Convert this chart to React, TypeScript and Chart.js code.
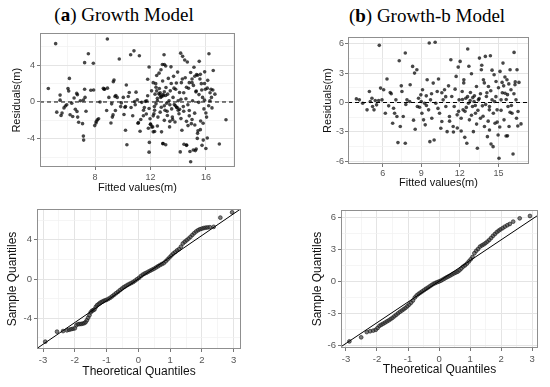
import React, { useEffect, useRef } from 'react';
import Chart from 'chart.js/auto';

type Pt = [number, number];

// (a) residuals vs fitted: [fitted, residual]
const aResidPoints: Pt[] = [
  [4.63,1.46],[5.16,6.33],[5.48,0.75],[5.48,0.2],[5.24,-1.1],[5.55,-1.46],[5.62,-1.2],[5.76,-0.64],[5.86,-0.43],[5.96,-0.3],
  [6.05,1.46],[6.1,1.2],[6.15,2.56],[6.2,-1.39],[6.32,-0.14],[6.39,-1.57],[6.49,0.43],[6.58,-0.78],[6.68,0.93],[6.73,0.78],
  [6.7,-1.03],[6.75,-1.64],[6.82,-2.2],[7.1,-2.35],[7.16,0.21],[7.16,-3.7],[7.18,-4.13],[7.25,4.27],[7.25,1.39],[7.35,-1.0],
  [7.52,5.23],[7.7,1.28],[7.88,4.2],[7.28,0.5],[6.94,0.14],[7.98,-2.56],[8.07,-2.28],[8.17,-1.92],[8.26,-1.81],[8.36,0],
  [8.6,1.49],[8.65,1.39],[8.84,-0.93],[8.89,6.83],[9.0,0.5],[9.2,-0.2],[9.32,2.2],[9.37,2.38],[9.44,0.6],[9.47,-0.93],
  [9.15,-2.28],[9.25,-1.64],[9.75,4.66],[9.6,0.5],[9.85,-0.5],[10.04,0.5],[10.16,-0.57],[10.26,1.85],[10.09,-1.35],[10.2,-3.06],
  [10.3,-4.63],[10.47,1.03],[10.57,5.12],[10.72,-1.49],[10.81,5.55],[10.86,0.04],[10.96,1.07],[11.05,0.25],[11.13,-2.24],[11.2,5.02],
  [11.25,-3.17],[11.37,-0.04],[11.49,-1.49],[11.56,-0.6],[11.63,0.07],[11.73,0.14],[11.8,2.46],[11.8,0.68],[11.85,-2.85],[11.9,-5.44],
  [11.97,-1.81],[12.01,-2.42],[11.92,-4.38],[12.08,1.21],[12.16,-2.7],[12.2,-3.24],[12.25,-1.28],[12.28,-0.5],[12.33,0.85],[12.38,1.99],
  [12.45,1.21],[12.45,2.88],[12.5,0.14],[12.54,-1.64],[12.62,3.13],[12.64,1.46],[12.69,0.75],[12.74,0.5],[12.76,3.49],[12.78,-0.57],
  [12.8,-3.24],[12.86,4.06],[12.88,2.28],[12.9,-4.52],[12.93,0.68],[12.98,5.12],[13.0,4.06],[13.0,-1.99],[13.05,-0.89],[13.1,-4.63],
  [13.12,1.57],[13.17,-0.14],[13.22,-1.46],[13.24,0.85],[13.29,2.56],[13.34,0.14],[13.38,-2.7],[13.43,1.21],[13.48,3.81],[13.53,-0.75],
  [13.58,-1.64],[13.63,0.5],[13.67,2.78],[13.72,-0.28],[13.77,-2.17],[13.82,1.39],[13.87,2.06],[13.91,-0.57],[13.96,3.24],[14.0,0.14],
  [14.06,-1.28],[14.1,1.03],[14.15,-5.41],[14.18,5.3],[14.23,2.1],[14.27,-3.06],[14.32,4.95],[14.37,-0.5],[14.42,-4.59],[14.47,4.56],
  [14.51,2.63],[14.56,0.36],[14.61,-4.66],[14.66,4.34],[14.71,-2.56],[14.75,1.49],[14.8,-0.93],[14.85,-5.37],[14.9,-6.48],[14.95,-2.35],
  [15.0,2.1],[15.04,0.14],[15.09,-5.2],[15.14,3.77],[15.19,-1.21],[15.24,-5.27],[15.28,1.1],[15.33,2.99],[15.38,-3.95],[15.43,-3.13],
  [15.48,-0.04],[15.52,4.41],[15.57,2.49],[15.62,-2.06],[15.67,1.99],[15.72,-4.7],[15.76,0.5],[15.81,-4.13],[15.86,-0.75],[15.91,3.27],
  [15.96,1.39],[16.0,-5.05],[16.05,-1.64],[16.13,2.35],[16.22,5.23],[16.29,0.14],[16.37,1.39],[16.44,-0.64],[16.53,3.42],[16.65,0.85],
  [16.97,-4.56],[17.45,-1.92],
  [12.6,0.9],[12.7,1.0],[12.9,0.8],[13.0,1.1],[12.8,0.6],[13.1,0.7],[12.5,0.4],[12.3,-0.9],[12.2,-1.5],[12.0,-2.4],
  [12.1,-2.7],[12.3,-3.2],[12.5,-2.6],[13.4,-0.3],[13.9,-0.6],[14.1,-0.8],[14.0,-0.9],[13.8,-0.4],[14.2,0.3],[14.4,1.0],
  [14.6,1.6],[14.8,2.1],[15.0,2.5],[15.2,2.8],[15.4,2.9],[15.1,1.8],[15.3,1.2],[15.5,0.8],[15.7,1.3],[15.9,2.0],
  [16.1,1.5],[16.3,1.0],[16.5,1.3],[16.2,-0.4],[16.0,-1.2],[15.8,-2.3],[15.6,-3.0],[15.4,-3.4],[15.2,-2.5],[15.0,-1.9],
  [14.8,-1.5],[14.6,-2.1],[14.4,-1.0],[14.2,-1.8],[13.6,-1.9],[13.4,-2.1],[13.2,-1.0],[13.0,-0.4],[12.7,-1.1],[12.4,-0.2],
  [11.9,-0.7],[11.7,-1.3],[11.5,-0.9],[11.3,-1.9],[11.1,-2.3],[10.9,-0.3],[10.6,-0.6],[10.4,0.6],[10.2,-0.5],[9.9,-0.1],
  [9.5,0.7],[9.3,-1.4],[8.9,1.5],[8.7,1.4],[8.1,-2.1],[7.9,1.3],[13.5,2.0],[13.7,1.5],[14.3,2.5],[14.9,3.2],
  [15.6,3.0],[16.4,0.5],[14.7,-0.3],[15.9,0.2],[13.1,3.9],[12.2,2.1],[11.9,3.8],[12.4,1.6],[12.9,-4.5],[14.6,-4.7],
  [15.3,-5.1],[16.1,-3.9]
];

// (b) residuals vs fitted: [fitted, residual]
const bResidPoints: Pt[] = [
  [3.96,0.37],[4.19,0.27],[4.45,-0.07],[4.79,-0.75],[4.97,1.13],[5.04,0.1],[5.17,0.44],[5.22,-0.41],[5.33,-0.75],[5.43,0.2],
  [5.53,-0.24],[5.69,0.2],[5.74,5.83],[5.84,1.47],[5.95,0.27],[6.08,1.3],[6.21,-1.09],[6.34,2.39],[6.47,-0.34],[6.59,1.02],
  [6.67,0.89],[6.78,-2.11],[6.85,-0.58],[6.93,-1.09],[7.03,0.27],[7.11,-1.43],[7.19,-4.09],[7.29,4.26],[7.37,-2.45],[7.45,1.7],
  [7.5,1.13],[7.6,-1.43],[7.76,5.05],[7.76,-4.16],[7.89,0.27],[8.14,1.81],[8.33,3.68],[8.48,3.0],[8.53,-2.73],[8.66,3.34],
  [8.79,0.44],[8.87,-0.48],[8.97,0.78],[9.05,-1.09],[9.1,1.3],[9.18,-1.77],[9.26,-0.07],[9.31,-2.28],[9.39,0.68],[9.46,2.32],
  [9.57,-0.75],[9.62,6.07],[9.67,-3.99],[9.72,0.27],[9.82,-1.6],[9.93,1.98],[10.0,-3.82],[10.08,6.14],[10.13,-0.07],[10.24,1.13],
  [10.34,2.39],[10.42,-1.09],[10.52,-2.63],[10.6,-1.94],[10.7,0.27],[10.81,1.3],[10.91,-0.41],[11.01,-2.97],[11.12,1.7],[11.19,-1.43],
  [11.3,4.36],[11.37,0.61],[11.48,-2.45],[11.56,-0.41],[11.63,1.36],[11.71,2.66],[11.79,-1.26],[11.87,3.61],[11.94,0.27],[12.02,4.19],
  [12.1,-2.9],[12.18,1.13],[12.25,-0.75],[12.31,2.32],[12.38,-3.55],[12.46,0.44],[12.54,-4.16],[12.61,5.46],[12.67,-0.07],[12.74,-1.77],
  [12.82,1.02],[12.9,2.93],[12.98,-0.41],[13.05,-2.97],[13.13,0.68],[13.21,-1.09],[13.29,1.64],[13.36,-4.67],[13.44,0.27],[13.52,4.53],
  [13.6,-1.6],[13.67,3.34],[13.75,-0.34],[13.83,2.32],[13.91,-2.45],[13.98,4.7],[14.06,0.61],[14.14,-3.48],[14.22,1.64],[14.29,-0.75],
  [14.37,4.77],[14.42,-4.23],[14.5,0.27],[14.58,-4.5],[14.66,2.83],[14.73,-2.11],[14.81,2.15],[14.89,-0.75],[14.97,-3.31],[15.04,-5.69],
  [15.12,3.17],[15.2,0.27],[15.28,2.05],[15.35,4.02],[15.43,-1.77],[15.51,0.95],[15.59,-3.41],[15.66,2.32],[15.74,-0.41],[15.82,-2.45],
  [15.9,3.34],[15.97,1.3],[16.05,-1.09],[16.13,-5.25],[16.21,5.11],[16.28,1.81],[16.36,0.27],[16.44,3.34],[16.52,-0.92],[16.59,2.05],
  [16.75,-2.18],
  [12.2,0.3],[12.4,-0.9],[12.6,0.6],[12.8,0.2],[13.0,0.5],[13.2,-0.3],[13.4,-0.8],[13.6,0.9],[13.8,-1.4],[14.0,-0.2],
  [14.2,-1.9],[14.4,1.2],[14.6,-1.1],[14.8,0.6],[15.0,1.5],[15.2,-0.8],[15.4,1.7],[15.6,0.3],[15.8,1.9],[16.0,-0.3],
  [16.2,0.9],[16.4,-1.6],[15.1,-2.5],[14.3,-2.8],[13.3,-2.2],[12.9,-1.3],[12.1,-1.6],[11.8,-2.6],[11.5,-3.0],[11.2,-1.9],
  [10.9,0.6],[10.6,1.0],[10.3,-0.6],[9.8,0.9],[9.4,-0.3],[9.0,0.1],[8.7,-0.4],[8.4,-1.8],[8.1,0.1],[7.8,-0.2],
  [13.7,3.8],[14.5,3.3],[15.5,2.6],[16.5,-2.4],[15.7,-3.4],[14.9,-2.0],[13.9,2.0],[12.7,3.7],[12.3,2.0],[11.9,-0.9],
  [14.1,1.0],[14.7,0.1],[15.3,1.0],[15.9,-1.0],[16.3,2.1],[13.1,0.1],[13.5,0.4],[12.5,-0.5],[14.3,-0.4],[15.7,0.8]
];

// (a) normal Q-Q: [theoretical, sample]
const aQQPoints: Pt[] = [
  [-2.93,-6.39],[-2.56,-5.37],[-2.37,-5.31],[-2.25,-5.24],[-2.18,-5.18],[-2.12,-5.12],[-2.06,-5.08],[-2.0,-5.03],[-1.95,-4.72],[-1.9,-4.6],
  [-1.85,-4.6],[-1.8,-4.58],[-1.75,-4.55],[-1.7,-4.5],[-1.66,-4.4],[-1.62,-4.2],[-1.58,-3.95],[-1.54,-3.7],[-1.5,-3.4],[-1.46,-3.25],
  [-1.42,-3.18],[-1.38,-3.1],[-1.34,-2.85],[-1.3,-2.68],[-1.25,-2.55],[-1.2,-2.42],[-1.15,-2.33],[-1.1,-2.25],[-1.05,-2.18],[-1.0,-2.12],
  [-0.94,-2.02],[-0.88,-1.9],[-0.82,-1.76],[-0.76,-1.6],[-0.7,-1.45],[-0.64,-1.3],[-0.58,-1.14],[-0.52,-0.98],[-0.46,-0.84],[-0.4,-0.72],
  [-0.34,-0.6],[-0.28,-0.5],[-0.22,-0.4],[-0.16,-0.3],[-0.1,-0.16],[-0.04,-0.02],[0.02,0.12],[0.08,0.3],[0.14,0.45],[0.2,0.56],
  [0.26,0.65],[0.32,0.76],[0.38,0.86],[0.44,0.96],[0.5,1.06],[0.56,1.18],[0.62,1.3],[0.68,1.42],[0.74,1.52],[0.8,1.62],
  [0.86,1.8],[0.92,2.0],[0.98,2.2],[1.04,2.4],[1.1,2.6],[1.16,2.75],[1.22,2.92],[1.28,3.05],[1.34,3.3],[1.4,3.62],
  [1.46,3.8],[1.52,3.95],[1.58,4.12],[1.64,4.3],[1.7,4.5],[1.76,4.68],[1.82,4.85],[1.88,4.98],[1.94,5.08],[2.0,5.14],
  [2.06,5.2],[2.12,5.24],[2.18,5.26],[2.25,5.28],[2.37,5.32],[2.58,6.26],[2.95,6.8]
];

// (b) normal Q-Q: [theoretical, sample]
const bQQPoints: Pt[] = [
  [-2.89,-5.61],[-2.51,-5.23],[-2.33,-4.74],[-2.22,-4.66],[-2.12,-4.6],[-2.04,-4.52],[-1.98,-4.35],[-1.92,-4.15],[-1.86,-4.05],[-1.8,-3.95],
  [-1.74,-3.85],[-1.68,-3.74],[-1.62,-3.64],[-1.56,-3.52],[-1.5,-3.4],[-1.44,-3.26],[-1.38,-3.12],[-1.32,-2.98],[-1.26,-2.84],[-1.2,-2.72],
  [-1.14,-2.6],[-1.08,-2.47],[-1.02,-2.32],[-0.96,-2.16],[-0.9,-1.98],[-0.84,-1.78],[-0.78,-1.5],[-0.72,-1.3],[-0.66,-1.16],[-0.6,-1.04],
  [-0.54,-0.92],[-0.48,-0.8],[-0.42,-0.68],[-0.36,-0.57],[-0.3,-0.45],[-0.24,-0.33],[-0.18,-0.22],[-0.12,-0.14],[-0.06,-0.06],[0.0,0.0],
  [0.06,0.08],[0.12,0.18],[0.18,0.28],[0.24,0.38],[0.3,0.47],[0.36,0.56],[0.42,0.66],[0.48,0.76],[0.54,0.84],[0.6,0.92],
  [0.66,1.05],[0.72,1.22],[0.78,1.4],[0.84,1.52],[0.9,1.68],[0.96,1.88],[1.02,2.08],[1.08,2.3],[1.14,2.65],[1.2,2.88],
  [1.26,3.05],[1.32,3.27],[1.38,3.38],[1.44,3.48],[1.5,3.6],[1.56,3.74],[1.62,3.9],[1.68,4.08],[1.74,4.28],[1.8,4.45],
  [1.86,4.62],[1.92,4.76],[1.98,4.88],[2.05,5.0],[2.12,5.14],[2.2,5.27],[2.28,5.39],[2.39,5.61],[2.6,5.92],[2.93,6.14]
];

// Q-Q reference lines (slope, intercept)
const aQQLine = { slope: 2.22, intercept: 0 };
const bQQLine = { slope: 1.94, intercept: 0.02 };

// axis ticks
const aResidXMajor = [8, 12, 16];
const aResidXMinor = [6, 10, 14, 18];
const aResidYMajor = [-4, 0, 4];
const aResidYMinor = [-6, -2, 2, 6];
const bResidXMajor = [6, 9, 12, 15];
const bResidXMinor = [4.5, 7.5, 10.5, 13.5, 16.5];
const bResidYMajor = [-6, -3, 0, 3, 6];
const bResidYMinor = [-4.5, -1.5, 1.5, 4.5];
const qqXMajor = [-3, -2, -1, 0, 1, 2, 3];
const qqXMinor = [-2.5, -1.5, -0.5, 0.5, 1.5, 2.5];
const aQQYMajor = [-4, 0, 4];
const aQQYMinor = [-6, -2, 2, 6];
const bQQYMajor = [-6, -3, 0, 3, 6];
const bQQYMinor = [-4.5, -1.5, 1.5, 4.5];

const SANS = "'Liberation Sans', Arial, sans-serif";

type PanelSpec = {
  left: number; top: number; width: number; height: number;
  area: { l: number; t: number; r: number; b: number };
  xMin: number; xMax: number; yMin: number; yMax: number;
  xMajor: number[]; xMinor: number[]; yMajor: number[]; yMinor: number[];
  xTitle: string; yTitle: string;
  titleSize: number; tickSize: number;
  xTitlePad: number; yTitlePad: number; xTickPad: number; yTickPad: number;
  kind: 'resid' | 'qq';
  points: Pt[];
  line?: { slope: number; intercept: number };
};

const panels: PanelSpec[] = [
  {
    left: 0, top: 26, width: 248, height: 170,
    area: { l: 40, t: 32, r: 235, b: 167 },
    xMin: 4.03, xMax: 18.1, yMin: -7.05, yMax: 7.44,
    xMajor: aResidXMajor, xMinor: aResidXMinor, yMajor: aResidYMajor, yMinor: aResidYMinor,
    xTitle: 'Fitted values(m)', yTitle: 'Residuals(m)', titleSize: 11, tickSize: 9,
    xTitlePad: 1.4, yTitlePad: 10, xTickPad: 2, yTickPad: 2,
    kind: 'resid', points: aResidPoints,
  },
  {
    left: 300, top: 30, width: 245, height: 166,
    area: { l: 348, t: 37, r: 529, b: 164 },
    xMin: 3.31, xMax: 17.37, yMin: -6.27, yMax: 6.68,
    xMajor: bResidXMajor, xMinor: bResidXMinor, yMajor: bResidYMajor, yMinor: bResidYMinor,
    xTitle: 'Fitted values(m)', yTitle: 'Residuals(m)', titleSize: 11, tickSize: 9,
    xTitlePad: 6, yTitlePad: 21.7, xTickPad: 1.5, yTickPad: 1,
    kind: 'resid', points: bResidPoints,
  },
  {
    left: 0, top: 200, width: 250, height: 187,
    area: { l: 37, t: 209, r: 241, b: 349 },
    xMin: -3.19, xMax: 3.23, yMin: -7.14, yMax: 7.14,
    xMajor: qqXMajor, xMinor: qqXMinor, yMajor: aQQYMajor, yMinor: aQQYMinor,
    xTitle: 'Theoretical Quantiles', yTitle: 'Sample Quantiles', titleSize: 12, tickSize: 9.5,
    xTitlePad: 8, yTitlePad: 5.5, xTickPad: 3, yTickPad: 2,
    kind: 'qq', points: aQQPoints, line: aQQLine,
  },
  {
    left: 300, top: 200, width: 248, height: 187,
    area: { l: 341, t: 210, r: 538, b: 348 },
    xMin: -3.16, xMax: 3.19, yMin: -6.23, yMax: 6.7,
    xMajor: qqXMajor, xMinor: qqXMinor, yMajor: bQQYMajor, yMinor: bQQYMinor,
    xTitle: 'Theoretical Quantiles', yTitle: 'Sample Quantiles', titleSize: 12, tickSize: 9.5,
    xTitlePad: 9.8, yTitlePad: 10.5, xTickPad: 2.2, yTickPad: 2,
    kind: 'qq', points: bQQPoints, line: bQQLine,
  },
];

const framePlugin = {
  id: 'panelFrame',
  afterDraw(chart: any) {
    const { ctx, chartArea: a } = chart;
    ctx.save();
    ctx.strokeStyle = '#8f8f8f';
    ctx.lineWidth = 1;
    ctx.strokeRect(Math.round(a.left) + 0.5, Math.round(a.top) + 0.5,
      Math.round(a.right - a.left) - 1, Math.round(a.bottom - a.top) - 1);
    ctx.restore();
  },
};

function axis(major: number[], minor: number[], min: number, max: number, spec: PanelSpec, horizontal: boolean) {
  const all = [...major, ...minor].filter(v => v >= min && v <= max).sort((p, q) => p - q);
  const isMajor = (v: number) => major.includes(v);
  return {
    type: 'linear',
    min, max,
    afterBuildTicks: (s: any) => { s.ticks = all.map(v => ({ value: v })); },
    afterFit: (s: any) => {
      if (horizontal) s.height = spec.top + spec.height - spec.area.b;
      else s.width = spec.area.l - spec.left;
    },
    ticks: {
      autoSkip: false, maxRotation: 0, minRotation: 0,
      padding: horizontal ? spec.xTickPad : spec.yTickPad,
      color: '#555555',
      font: { family: SANS, size: spec.tickSize },
      callback: (v: number) => (isMajor(v) ? String(v) : ''),
    },
    grid: {
      drawTicks: true,
      tickLength: 3,
      color: (c: any) => (c.tick && isMajor(c.tick.value) ? '#e4e4e4' : '#f1f1f1'),
      lineWidth: (c: any) => (c.tick && isMajor(c.tick.value) ? 1 : 0.7),
      tickColor: (c: any) => (c.tick && isMajor(c.tick.value) ? '#777777' : 'rgba(0,0,0,0)'),
      tickWidth: 1,
    },
    border: { display: false },
    title: {
      display: true,
      text: horizontal ? spec.xTitle : spec.yTitle,
      color: '#111111',
      font: { family: SANS, size: spec.titleSize },
      padding: horizontal ? { top: 0, bottom: spec.xTitlePad } : { top: spec.yTitlePad, bottom: 0 },
    },
  };
}

function buildConfig(spec: PanelSpec): any {
  const pts = spec.points.map(([x, y]) => ({ x, y }));
  const datasets: any[] = [];
  if (spec.kind === 'resid') {
    datasets.push({
      data: pts,
      pointRadius: 1.8,
      pointBackgroundColor: 'rgba(0,0,0,0.72)',
      pointBorderWidth: 0,
      order: 2,
    });
    datasets.push({
      data: [{ x: spec.xMin, y: 0 }, { x: spec.xMax, y: 0 }],
      showLine: true,
      borderColor: '#000000',
      borderWidth: 1,
      borderDash: [4, 3],
      pointRadius: 0,
      order: 1,
    });
  } else {
    const ln = spec.line!;
    datasets.push({
      data: pts,
      pointRadius: 1.9,
      pointBackgroundColor: 'rgba(55,55,55,0.65)',
      pointBorderColor: 'rgba(20,20,20,0.85)',
      pointBorderWidth: 0.7,
      order: 2,
    });
    datasets.push({
      data: [
        { x: spec.xMin, y: ln.intercept + ln.slope * spec.xMin },
        { x: spec.xMax, y: ln.intercept + ln.slope * spec.xMax },
      ],
      showLine: true,
      borderColor: '#000000',
      borderWidth: 1,
      pointRadius: 0,
      order: 1,
    });
  }
  return {
    type: 'scatter',
    data: { datasets },
    options: {
      responsive: false,
      animation: false,
      devicePixelRatio: 1,
      layout: {
        padding: {
          left: 0, bottom: 0,
          top: spec.area.t - spec.top,
          right: spec.left + spec.width - spec.area.r,
        },
      },
      plugins: { legend: { display: false }, tooltip: { enabled: false } },
      scales: {
        x: axis(spec.xMajor, spec.xMinor, spec.xMin, spec.xMax, spec, true),
        y: axis(spec.yMajor, spec.yMinor, spec.yMin, spec.yMax, spec, false),
      },
    },
    plugins: [framePlugin],
  };
}

function Panel({ spec }: { spec: PanelSpec }) {
  const ref = useRef<HTMLCanvasElement | null>(null);
  useEffect(() => {
    if (!ref.current) return;
    const chart = new Chart(ref.current, buildConfig(spec));
    return () => chart.destroy();
  }, [spec]);
  return (
    <canvas
      ref={ref}
      width={spec.width}
      height={spec.height}
      style={{ position: 'absolute', left: spec.left, top: spec.top, width: spec.width, height: spec.height }}
    />
  );
}

function Title({ cx, cy, letter, text }: { cx: number; cy: number; letter: string; text: string }) {
  return (
    <div
      style={{
        position: 'absolute', left: cx - 150, top: cy - 11, width: 300, height: 22,
        textAlign: 'center', fontFamily: "'Liberation Serif', 'DejaVu Serif', serif",
        fontSize: 19, lineHeight: '22px', color: '#000', whiteSpace: 'nowrap',
      }}
    >
      (<b>{letter}</b>) {text}
    </div>
  );
}

export default function App() {
  return (
    <div style={{ position: 'absolute', left: 0, top: 0, width: 550, height: 387, background: '#fff', overflow: 'hidden' }}>
      <Title cx={124} cy={15} letter="a" text="Growth Model" />
      <Title cx={427} cy={16} letter="b" text="Growth-b Model" />
      {panels.map((p, i) => <Panel key={i} spec={p} />)}
    </div>
  );
}
